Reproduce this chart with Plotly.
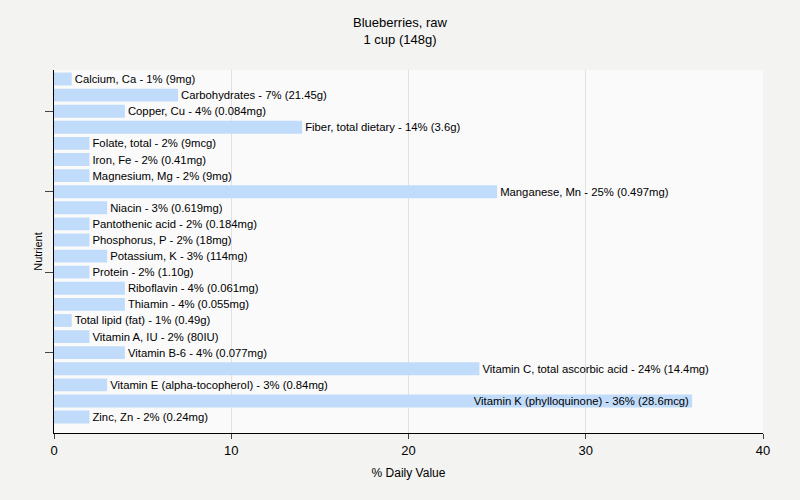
import plotly.graph_objects as go

# Nutrient data (per 1 cup, 148g)
nutrients = [
    "Calcium, Ca", "Carbohydrates", "Copper, Cu", "Fiber, total dietary",
    "Folate, total", "Iron, Fe", "Magnesium, Mg", "Manganese, Mn", "Niacin",
    "Pantothenic acid", "Phosphorus, P", "Potassium, K", "Protein",
    "Riboflavin", "Thiamin", "Total lipid (fat)", "Vitamin A, IU",
    "Vitamin B-6", "Vitamin C, total ascorbic acid",
    "Vitamin E (alpha-tocopherol)", "Vitamin K (phylloquinone)", "Zinc, Zn",
]
daily_pct = [1, 7, 4, 14, 2, 2, 2, 25, 3, 2, 2, 3, 2, 4, 4, 1, 2, 4, 24, 3, 36, 2]
amounts = [
    "9mg", "21.45g", "0.084mg", "3.6g", "9mcg", "0.41mg", "9mg", "0.497mg",
    "0.619mg", "0.184mg", "18mg", "114mg", "1.10g", "0.061mg", "0.055mg",
    "0.49g", "80IU", "0.077mg", "14.4mg", "0.84mg", "28.6mcg", "0.24mg",
]
y_ticks = ["Copper, Cu", "Manganese, Mn", "Protein", "Vitamin B-6"]
x_ticks = [0, 10, 20, 30, 40]

BAR_COLOR = "#c0dcfa"
FONT = "Liberation Sans"

labels = [f"{n} - {p}% ({a})" for n, p, a in zip(nutrients, daily_pct, amounts)]
positions = ["inside" if p >= 30 else "outside" for p in daily_pct]

fig = go.Figure()
fig.add_trace(go.Bar(
    x=daily_pct,
    y=nutrients,
    orientation="h",
    marker=dict(color=BAR_COLOR, line=dict(width=0)),
    text=labels,
    textposition=positions,
    insidetextanchor="end",
    constraintext="none",
    cliponaxis=False,
    textfont=dict(family=FONT, size=11.3, color="black"),
    hoverinfo="skip",
))

fig.update_layout(
    width=800, height=500,
    paper_bgcolor="#f3f3f2", plot_bgcolor="#fafafa",
    font=dict(family=FONT, size=12, color="black"),
    title=dict(text="Blueberries, raw<br>1 cup (148g)", x=0.5, xanchor="center",
               y=0.946, yanchor="top", font=dict(size=13)),
    margin=dict(l=54, r=37, t=70, b=67, autoexpand=False),
    bargap=0.2,
    showlegend=False,
)

fig.update_xaxes(
    range=[0, 40], tickvals=x_ticks, ticks="outside", ticklen=5,
    showline=True, linecolor="black", linewidth=1,
    showgrid=True, gridcolor="#e2e2e2", zeroline=False, automargin=False,
    title=dict(text="% Daily Value", standoff=12, font=dict(size=12)),
    tickfont=dict(size=13),
)
fig.update_yaxes(
    range=[21.99, -0.56], tickvals=y_ticks, showticklabels=False,
    ticks="outside", ticklen=8, showline=True, linecolor="black", linewidth=1,
    showgrid=False, automargin=False,
    title=dict(text="Nutrient", standoff=0, font=dict(size=11)),
)

# page body has a default 8px margin; remove it so the figure fills the window
fig.write_html("out.html", config={"displayModeBar": False},
               post_script="document.body.style.margin='0';")
